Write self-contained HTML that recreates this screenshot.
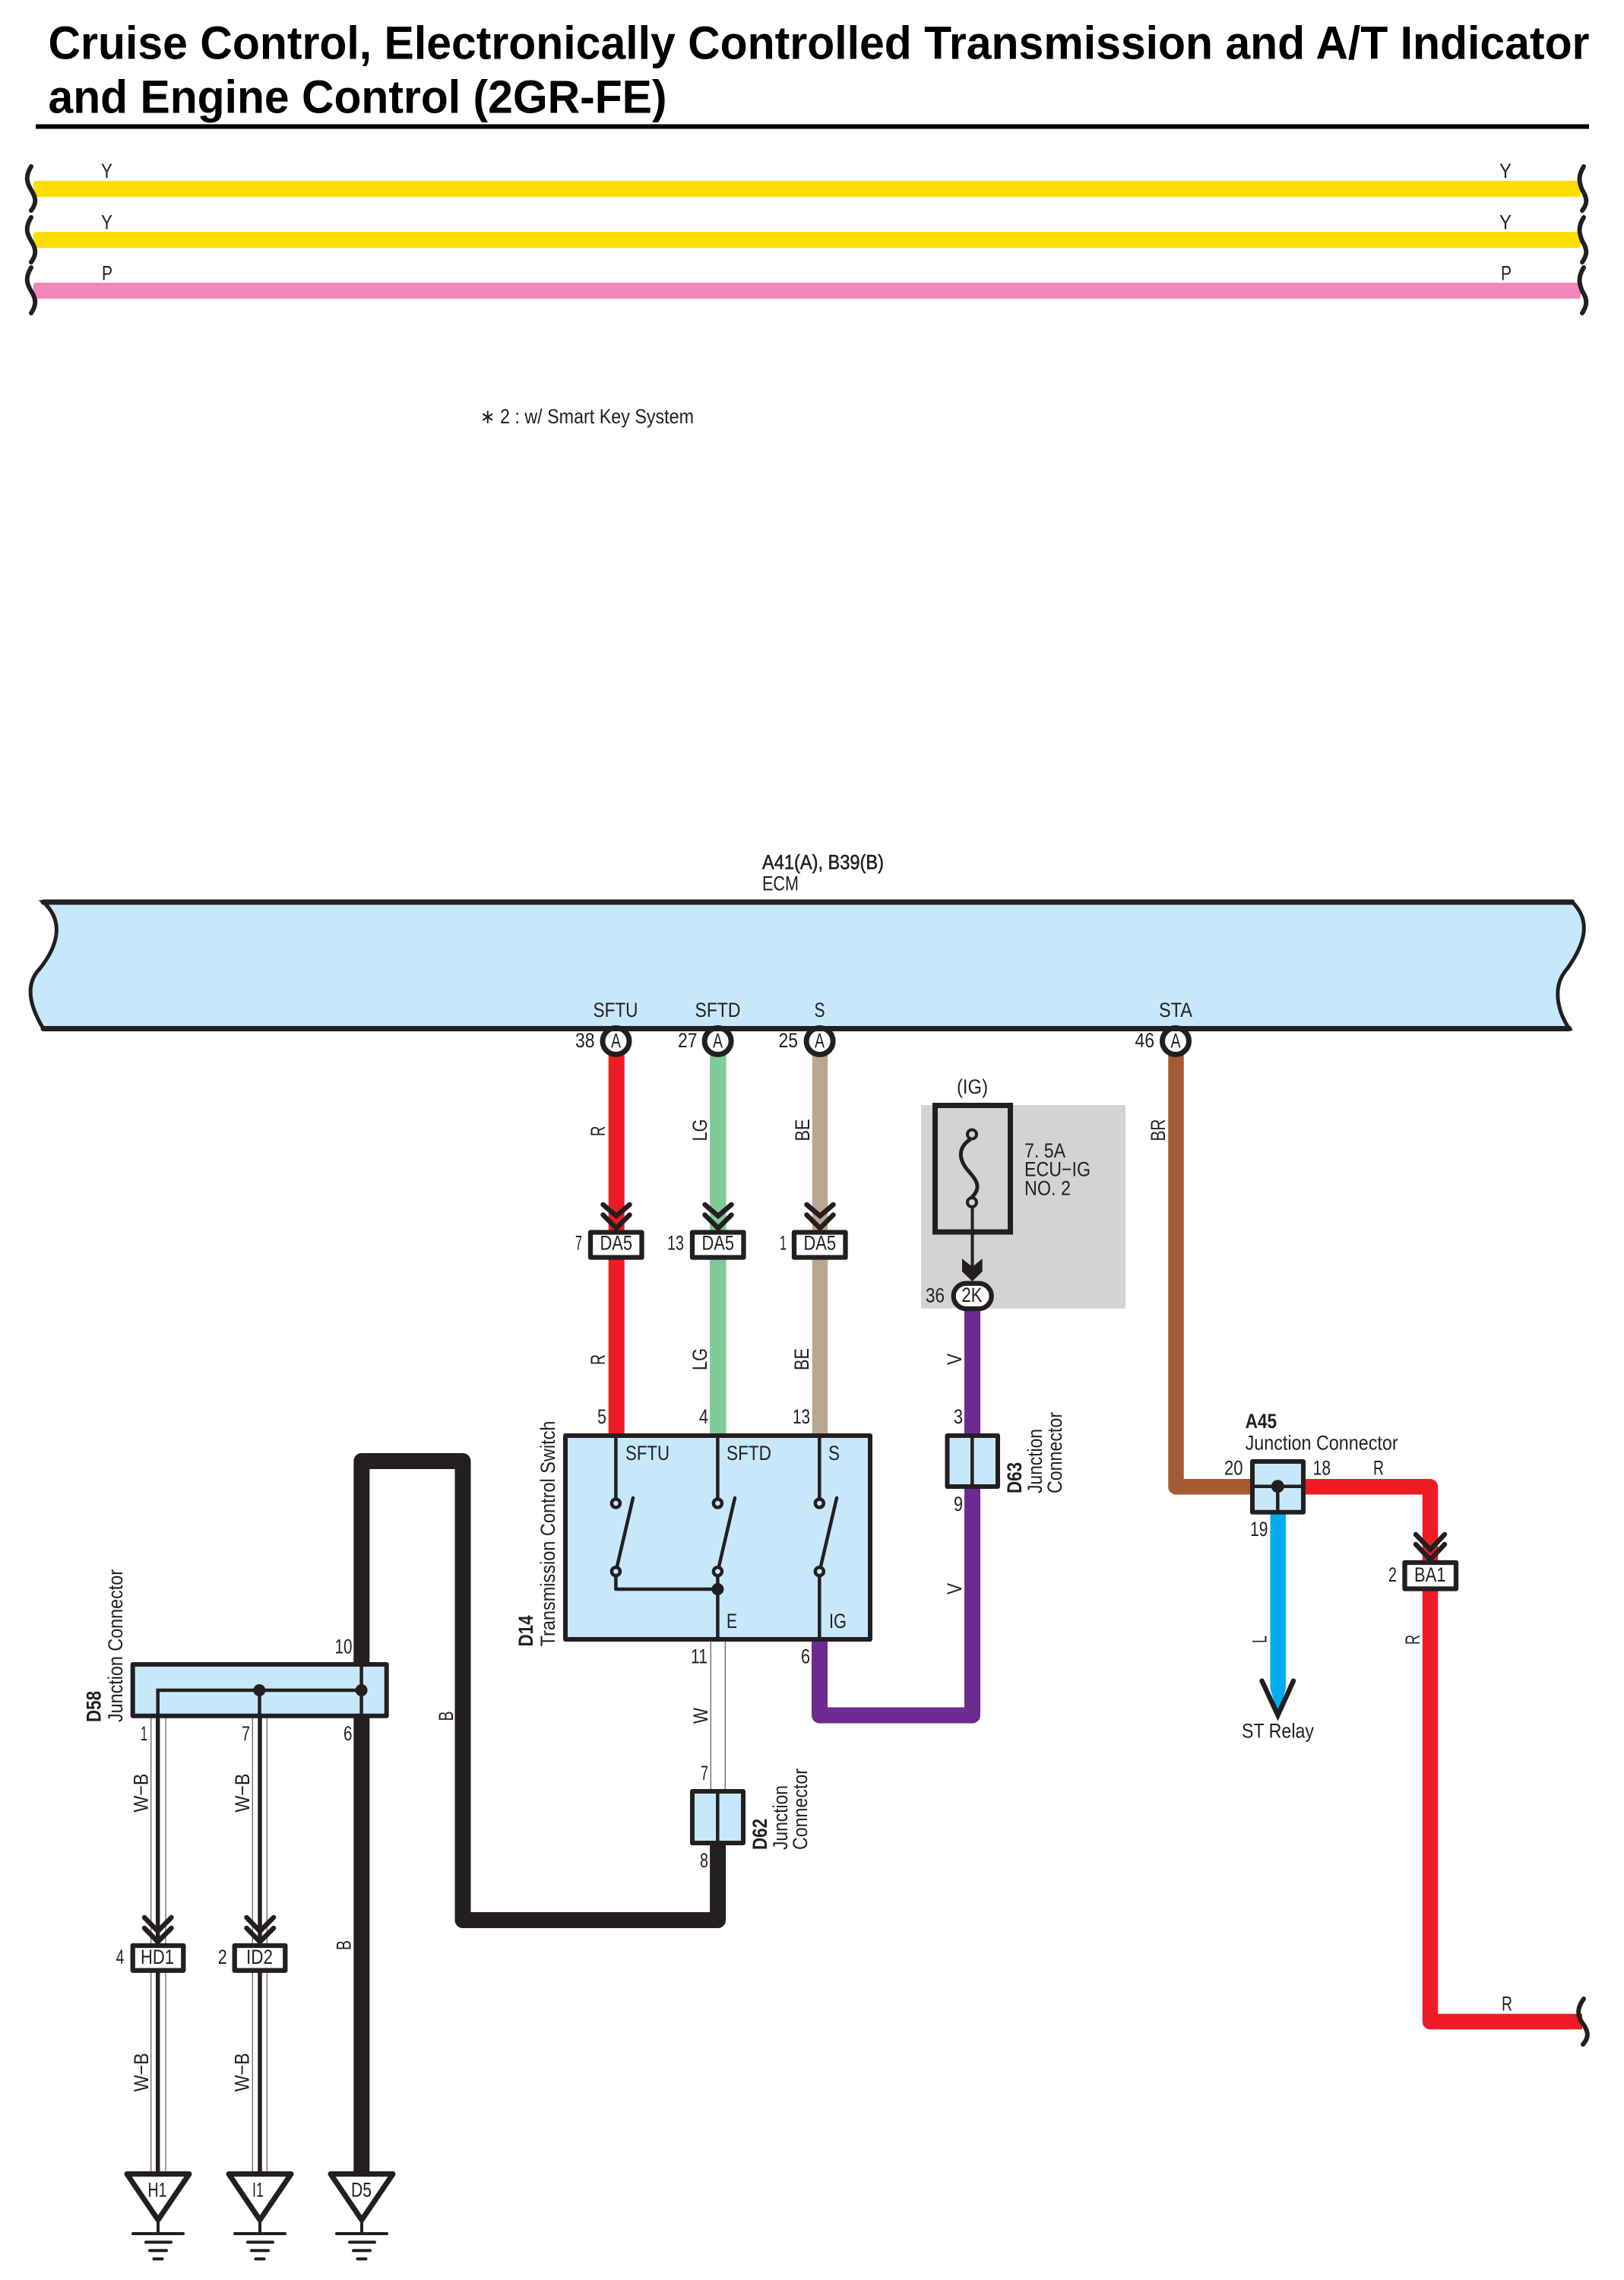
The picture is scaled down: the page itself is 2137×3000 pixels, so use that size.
<!DOCTYPE html>
<html><head><meta charset="utf-8"><style>
html,body{margin:0;padding:0;background:#fff}
svg{display:block}
text{font-family:"Liberation Sans",sans-serif;font-size:26.5px;fill:#231f20}
.b{font-weight:bold}
.h{font-weight:bold;font-size:61px;fill:#000}
.w{fill:none;stroke-linejoin:round}
.k{fill:none;stroke:#231f20;stroke-width:4.5;stroke-linejoin:round}
.g{stroke:#666;stroke-width:1.3}
.ch{fill:none;stroke:#231f20;stroke-width:6.5;stroke-linecap:round;stroke-linejoin:miter}
.sq{fill:none;stroke:#231f20;stroke-width:6;stroke-linecap:round}
.box{fill:#c7e8fa;stroke:#231f20;stroke-width:6;stroke-linejoin:round}
.con{fill:#fff;stroke:#231f20;stroke-width:6.3;stroke-linejoin:round}
.pin{fill:#fff;stroke:#231f20;stroke-width:7}
.tri{fill:#fff;stroke:#231f20;stroke-width:7;stroke-linejoin:round}
.gnd{stroke:#231f20;stroke-width:4;stroke-linecap:round}
</style></head><body>
<svg xmlns="http://www.w3.org/2000/svg" width="2137" height="3000" viewBox="0 0 2137 3000">
<rect width="2137" height="3000" fill="#fff"/>

<!-- title -->
<text class="h" x="63.5" y="77.5" textLength="2028" lengthAdjust="spacingAndGlyphs">Cruise Control, Electronically Controlled Transmission and A/T Indicator</text>
<text class="h" x="63.5" y="148.5" textLength="814" lengthAdjust="spacingAndGlyphs">and Engine Control (2GR-FE)</text>
<rect x="47" y="163.5" width="2044" height="6" fill="#000"/>

<!-- top wires -->
<rect x="44" y="238" width="2036" height="21" rx="3" fill="#ffdd00"/>
<rect x="44" y="305.2" width="2036" height="21" rx="3" fill="#ffdd00"/>
<rect x="44" y="372" width="2036" height="21" rx="3" fill="#f287b7"/>
<path class="sq" d="M41 219C33 232 35 240 41 250C48 261 48 268 41 277"/>
<path class="sq" d="M41 286C33 299 35 307 41 317C48 328 48 335 41 345"/>
<path class="sq" d="M41 352C33 365 35 373 41 383C48 394 48 401 41 412"/>
<path class="sq" d="M2084 219C2076 232 2078 240 2082 250C2089 261 2089 268 2082 277"/>
<path class="sq" d="M2084 286C2076 299 2078 307 2082 317C2089 328 2089 335 2082 345"/>
<path class="sq" d="M2084 352C2076 365 2078 373 2082 383C2089 394 2089 401 2082 412"/>
<text x="133" y="234" textLength="15" lengthAdjust="spacingAndGlyphs">Y</text>
<text x="133" y="301.5" textLength="15" lengthAdjust="spacingAndGlyphs">Y</text>
<text x="134" y="368.5" textLength="14" lengthAdjust="spacingAndGlyphs">P</text>
<text x="1973" y="234" textLength="16" lengthAdjust="spacingAndGlyphs">Y</text>
<text x="1973" y="301.5" textLength="16" lengthAdjust="spacingAndGlyphs">Y</text>
<text x="1975" y="368.5" textLength="14" lengthAdjust="spacingAndGlyphs">P</text>
<text x="632" y="557" textLength="281" lengthAdjust="spacingAndGlyphs">∗ 2 : w/ Smart Key System</text>

<!-- ECM -->
<text x="1003" y="1143.5" textLength="160" lengthAdjust="spacingAndGlyphs" stroke="#231f20" stroke-width=".6">A41(A), B39(B)</text>
<text x="1003" y="1171.5" textLength="48" lengthAdjust="spacingAndGlyphs">ECM</text>
<path d="M57 1187H2069C2098 1215 2080 1250 2062 1275C2040 1300 2052 1335 2065 1353.5H57C46 1335 28 1300 52 1275C72 1250 88 1215 57 1187Z" fill="#c7e8fa" stroke="#231f20" stroke-width="5"/>
<text x="780.5" y="1338" textLength="59" lengthAdjust="spacingAndGlyphs">SFTU</text>
<text x="914.5" y="1338" textLength="60" lengthAdjust="spacingAndGlyphs">SFTD</text>
<text x="1071.5" y="1338" textLength="14" lengthAdjust="spacingAndGlyphs">S</text>
<text x="1525" y="1338" textLength="44" lengthAdjust="spacingAndGlyphs">STA</text>

<!-- wires: ECM to D14 -->
<path d="M811.2 1385V1888" stroke="#ed1c24" stroke-width="21" fill="none"/>
<path d="M944.8 1385V1888" stroke="#7fc99a" stroke-width="21.5" fill="none"/>
<path d="M1079 1385V1888" stroke="#baa790" stroke-width="20.5" fill="none"/>

<!-- BR / A45 wires -->
<path class="w" d="M1547.5 1385V1956.3H1650" stroke="#a65a32" stroke-width="20.5"/>
<path class="w" d="M1715 1956.3H1882V2660H2082" stroke="#ed1c24" stroke-width="20.5"/>
<path d="M1681.7 1990V2222" stroke="#00aeef" stroke-width="20.5" fill="none"/>
<polygon points="1671.5,2222 1692,2222 1681.7,2256" fill="#00aeef"/>
<path class="ch" d="M1660.6 2211.7L1681.5 2256.7L1702 2211.7"/>

<!-- gray fuse block -->
<rect x="1212" y="1454" width="269" height="267.7" fill="#d1d3d4"/>
<rect x="1230.5" y="1454.5" width="99" height="166.5" fill="#d1d3d4" stroke="#231f20" stroke-width="7"/>
<path d="M1277 1499C1260 1510 1262 1525 1272 1538C1284 1552 1294 1562 1277 1577" fill="none" stroke="#231f20" stroke-width="5"/>
<circle cx="1279" cy="1492.5" r="6" fill="#d1d3d4" stroke="#231f20" stroke-width="4"/>
<circle cx="1279" cy="1582" r="6" fill="#d1d3d4" stroke="#231f20" stroke-width="4"/>
<path d="M1279.5 1588V1670" stroke="#231f20" stroke-width="4"/>
<polygon points="1266,1656 1279.5,1667 1292.7,1656 1292.7,1673 1279.5,1686 1266,1673" fill="#231f20"/>
<text x="1259" y="1439" textLength="41" lengthAdjust="spacingAndGlyphs">(IG)</text>
<text x="1348" y="1523" textLength="54" lengthAdjust="spacingAndGlyphs">7. 5A</text>
<text x="1348" y="1547.5" textLength="87" lengthAdjust="spacingAndGlyphs">ECU−IG</text>
<text x="1348" y="1572.7" textLength="61" lengthAdjust="spacingAndGlyphs">NO. 2</text>

<!-- V wire -->
<path class="w" d="M1279.5 1722V2257H1078.5V2155" stroke="#6e2b8f" stroke-width="21"/>
<rect x="1254.7" y="1688.7" width="50" height="33.3" rx="16.6" class="con"/>
<text x="1265.5" y="1713" textLength="27" lengthAdjust="spacingAndGlyphs">2K</text>
<text x="1218" y="1713.5" textLength="25" lengthAdjust="spacingAndGlyphs">36</text>

<!-- B wire -->
<path class="w" d="M944.6 2425V2526.5H609V1922.5H475.8V2860" stroke="#231f20" stroke-width="21"/>

<!-- W wire -->
<path d="M935.3 2158V2355M954.3 2158V2355" class="g" fill="none"/>

<!-- W-B wires -->
<path d="M198.7 2258V2860M218 2258V2860M332.3 2258V2860M351.3 2258V2860" class="g" fill="none"/>
<path d="M207.7 2258V2860M342 2258V2860" stroke="#231f20" stroke-width="5.5" fill="none"/>

<!-- pins on ECM -->
<circle cx="810.5" cy="1370" r="17.5" class="pin"/>
<circle cx="944.6" cy="1370" r="17.5" class="pin"/>
<circle cx="1078.6" cy="1370" r="17.5" class="pin"/>
<circle cx="1547" cy="1370" r="17.5" class="pin"/>
<path d="M57 1353.5H2065" fill="none" stroke="#231f20" stroke-width="7" stroke-linecap="round"/>
<path d="M57 1187H2069" fill="none" stroke="#231f20" stroke-width="7" stroke-linecap="round"/>
<text x="804" y="1378.5" textLength="13" lengthAdjust="spacingAndGlyphs">A</text>
<text x="938" y="1378.5" textLength="13" lengthAdjust="spacingAndGlyphs">A</text>
<text x="1072" y="1378.5" textLength="13" lengthAdjust="spacingAndGlyphs">A</text>
<text x="1540.5" y="1378.5" textLength="13" lengthAdjust="spacingAndGlyphs">A</text>
<text x="757" y="1378" textLength="25.5" lengthAdjust="spacingAndGlyphs">38</text>
<text x="892" y="1378" textLength="25.5" lengthAdjust="spacingAndGlyphs">27</text>
<text x="1024.5" y="1378" textLength="25.5" lengthAdjust="spacingAndGlyphs">25</text>
<text x="1493.5" y="1378" textLength="25.5" lengthAdjust="spacingAndGlyphs">46</text>

<!-- chevrons + DA5 -->
<path class="ch" d="M793.5 1585L811 1600L828.5 1585M793.5 1598.5L811 1616L828.5 1598.5"/>
<path class="ch" d="M927.5 1585L945 1600L962.5 1585M927.5 1598.5L945 1616L962.5 1598.5"/>
<path class="ch" d="M1061.5 1585L1079 1600L1096.5 1585M1061.5 1598.5L1079 1616L1096.5 1598.5"/>
<rect x="777" y="1621.5" width="67.5" height="33" class="con"/>
<rect x="911" y="1621.5" width="67.5" height="33" class="con"/>
<rect x="1045" y="1621.5" width="67.5" height="33" class="con"/>
<text x="789.5" y="1644.5" textLength="42.5" lengthAdjust="spacingAndGlyphs">DA5</text>
<text x="923.5" y="1644.5" textLength="42.5" lengthAdjust="spacingAndGlyphs">DA5</text>
<text x="1057.5" y="1644.5" textLength="42.5" lengthAdjust="spacingAndGlyphs">DA5</text>
<text x="757" y="1644.5" textLength="9" lengthAdjust="spacingAndGlyphs">7</text>
<text x="878" y="1644.5" textLength="22" lengthAdjust="spacingAndGlyphs">13</text>
<text x="1026" y="1644.5" textLength="9" lengthAdjust="spacingAndGlyphs">1</text>

<!-- D14 -->
<rect x="744" y="1889" width="401" height="268" class="box"/>
<path class="k" d="M810.4 1889V1972M944.4 1889V1972M1078.3 1889V1972M810.4 2074V2091H944.4M944.4 2074V2157M1078.3 2074V2157"/>
<path class="k" d="M833 1971L812 2061M967 1971L946 2061M1101 1971L1080 2061" stroke-width="5" stroke-linecap="round"/>
<g fill="#c7e8fa" stroke="#231f20" stroke-width="4.5">
<circle cx="810.4" cy="1978" r="5.5"/><circle cx="944.4" cy="1978" r="5.5"/><circle cx="1078.3" cy="1978" r="5.5"/>
<circle cx="810.4" cy="2067.7" r="5.5"/><circle cx="944.4" cy="2067.7" r="5.5"/><circle cx="1078.3" cy="2067.7" r="5.5"/>
</g>
<circle cx="944.4" cy="2091" r="8" fill="#231f20"/>
<text x="823" y="1921" textLength="58" lengthAdjust="spacingAndGlyphs">SFTU</text>
<text x="956" y="1921" textLength="59" lengthAdjust="spacingAndGlyphs">SFTD</text>
<text x="1090" y="1921" textLength="15" lengthAdjust="spacingAndGlyphs">S</text>
<text x="956" y="2142" textLength="14" lengthAdjust="spacingAndGlyphs">E</text>
<text x="1091" y="2142" textLength="23" lengthAdjust="spacingAndGlyphs">IG</text>
<text x="786" y="1873" textLength="12" lengthAdjust="spacingAndGlyphs">5</text>
<text x="920" y="1873" textLength="12" lengthAdjust="spacingAndGlyphs">4</text>
<text x="1043" y="1873" textLength="23" lengthAdjust="spacingAndGlyphs">13</text>
<text x="909" y="2188.5" textLength="22" lengthAdjust="spacingAndGlyphs">11</text>
<text x="1054" y="2188.5" textLength="12" lengthAdjust="spacingAndGlyphs">6</text>
<text transform="translate(730,2166.5) rotate(-90)" textLength="297" lengthAdjust="spacingAndGlyphs">Transmission Control Switch</text>
<text class="b" transform="translate(701,2166.5) rotate(-90)" textLength="41" lengthAdjust="spacingAndGlyphs">D14</text>

<!-- wire labels -->
<text transform="translate(796,1495) rotate(-90)" textLength="13.5" lengthAdjust="spacingAndGlyphs">R</text>
<text transform="translate(930,1501.5) rotate(-90)" textLength="29" lengthAdjust="spacingAndGlyphs">LG</text>
<text transform="translate(1065,1501.5) rotate(-90)" textLength="29" lengthAdjust="spacingAndGlyphs">BE</text>
<text transform="translate(1533,1501.5) rotate(-90)" textLength="29" lengthAdjust="spacingAndGlyphs">BR</text>
<text transform="translate(796,1796) rotate(-90)" textLength="14" lengthAdjust="spacingAndGlyphs">R</text>
<text transform="translate(930,1803) rotate(-90)" textLength="29" lengthAdjust="spacingAndGlyphs">LG</text>
<text transform="translate(1064,1803) rotate(-90)" textLength="29" lengthAdjust="spacingAndGlyphs">BE</text>
<text transform="translate(1265,1796) rotate(-90)" textLength="15" lengthAdjust="spacingAndGlyphs">V</text>
<text transform="translate(1265,2098) rotate(-90)" textLength="15" lengthAdjust="spacingAndGlyphs">V</text>
<text transform="translate(931,2268) rotate(-90)" textLength="21" lengthAdjust="spacingAndGlyphs">W</text>
<text transform="translate(596,2264.5) rotate(-90)" textLength="13" lengthAdjust="spacingAndGlyphs">B</text>
<text transform="translate(461.7,2566) rotate(-90)" textLength="13" lengthAdjust="spacingAndGlyphs">B</text>
<text transform="translate(194.6,2384.6) rotate(-90)" textLength="51" lengthAdjust="spacingAndGlyphs">W−B</text>
<text transform="translate(327.8,2384.6) rotate(-90)" textLength="51" lengthAdjust="spacingAndGlyphs">W−B</text>
<text transform="translate(195,2752.3) rotate(-90)" textLength="51" lengthAdjust="spacingAndGlyphs">W−B</text>
<text transform="translate(327.7,2752.3) rotate(-90)" textLength="51" lengthAdjust="spacingAndGlyphs">W−B</text>
<text transform="translate(1666.7,2162) rotate(-90)" textLength="10" lengthAdjust="spacingAndGlyphs">L</text>
<text transform="translate(1868,2164) rotate(-90)" textLength="13" lengthAdjust="spacingAndGlyphs">R</text>
<text x="1976" y="2645.7" textLength="14" lengthAdjust="spacingAndGlyphs">R</text>

<!-- D63 -->
<rect x="1246.5" y="1889" width="66.5" height="67" class="box"/>
<path d="M1279.3 1889V1956" stroke="#231f20" stroke-width="4.5"/>
<text x="1255" y="1873" textLength="12" lengthAdjust="spacingAndGlyphs">3</text>
<text x="1255" y="1988" textLength="12" lengthAdjust="spacingAndGlyphs">9</text>
<text class="b" transform="translate(1344,1965) rotate(-90)" textLength="41" lengthAdjust="spacingAndGlyphs">D63</text>
<text transform="translate(1371,1965) rotate(-90)" textLength="85" lengthAdjust="spacingAndGlyphs">Junction</text>
<text transform="translate(1397,1965) rotate(-90)" textLength="107" lengthAdjust="spacingAndGlyphs">Connector</text>

<!-- D62 -->
<rect x="911" y="2357" width="67" height="68" class="box"/>
<path d="M944.3 2357V2425" stroke="#231f20" stroke-width="4.5"/>
<text x="922" y="2342" textLength="10" lengthAdjust="spacingAndGlyphs">7</text>
<text x="921" y="2457" textLength="11" lengthAdjust="spacingAndGlyphs">8</text>
<text class="b" transform="translate(1009,2434) rotate(-90)" textLength="41" lengthAdjust="spacingAndGlyphs">D62</text>
<text transform="translate(1036,2434) rotate(-90)" textLength="85" lengthAdjust="spacingAndGlyphs">Junction</text>
<text transform="translate(1062,2434) rotate(-90)" textLength="107" lengthAdjust="spacingAndGlyphs">Connector</text>

<!-- A45 -->
<rect x="1648" y="1923" width="67" height="66.7" class="box"/>
<path class="k" d="M1648 1955.7H1715M1681.3 1955.7V1990"/>
<circle cx="1681.3" cy="1955.7" r="8.5" fill="#231f20"/>
<text class="b" x="1638.6" y="1879" textLength="41.5" lengthAdjust="spacingAndGlyphs">A45</text>
<text x="1638.6" y="1907.7" textLength="201" lengthAdjust="spacingAndGlyphs">Junction Connector</text>
<text x="1611" y="1940.7" textLength="24.5" lengthAdjust="spacingAndGlyphs">20</text>
<text x="1727.6" y="1940.7" textLength="23.5" lengthAdjust="spacingAndGlyphs">18</text>
<text x="1807" y="1940.7" textLength="14" lengthAdjust="spacingAndGlyphs">R</text>
<text x="1645" y="2021" textLength="23.5" lengthAdjust="spacingAndGlyphs">19</text>
<text x="1634" y="2286.7" textLength="95" lengthAdjust="spacingAndGlyphs">ST Relay</text>

<!-- BA1 -->
<path class="ch" d="M1863 2019L1882 2039L1901 2019M1863 2032L1882 2052L1901 2032"/>
<rect x="1848.5" y="2056" width="67.5" height="34.5" class="con"/>
<text x="1861" y="2081" textLength="41.5" lengthAdjust="spacingAndGlyphs">BA1</text>
<text x="1827" y="2081" textLength="11" lengthAdjust="spacingAndGlyphs">2</text>
<path class="sq" d="M2084 2630C2076 2641 2075 2650 2081 2660C2090 2672 2092 2680 2083 2690"/>

<!-- D58 -->
<rect x="174.7" y="2190" width="334" height="67.7" class="box"/>
<path d="M207.7 2258V2224H475.6M341.5 2224V2258M475.6 2190V2258" fill="none" stroke="#231f20" stroke-width="4.5"/>
<circle cx="341.3" cy="2224" r="8" fill="#231f20"/>
<circle cx="475.6" cy="2224" r="8" fill="#231f20"/>
<text class="b" transform="translate(132.6,2266) rotate(-90)" textLength="41" lengthAdjust="spacingAndGlyphs">D58</text>
<text transform="translate(161,2266) rotate(-90)" textLength="201" lengthAdjust="spacingAndGlyphs">Junction Connector</text>
<text x="440.5" y="2175.7" textLength="23" lengthAdjust="spacingAndGlyphs">10</text>
<text x="185" y="2290" textLength="9" lengthAdjust="spacingAndGlyphs">1</text>
<text x="318" y="2290" textLength="11" lengthAdjust="spacingAndGlyphs">7</text>
<text x="452" y="2290" textLength="11.5" lengthAdjust="spacingAndGlyphs">6</text>

<!-- HD1 ID2 -->
<path class="ch" d="M190 2523L207.7 2541L225.5 2523M190 2537L207.7 2555L225.5 2537"/>
<path class="ch" d="M324.5 2523L342 2541L360 2523M324.5 2537L342 2555L360 2537"/>
<rect x="174.7" y="2560" width="66.6" height="32.7" class="con"/>
<rect x="308.7" y="2560" width="66.6" height="32.7" class="con"/>
<text x="185" y="2584" textLength="44" lengthAdjust="spacingAndGlyphs">HD1</text>
<text x="324" y="2584" textLength="35" lengthAdjust="spacingAndGlyphs">ID2</text>
<text x="152.7" y="2584" textLength="10.5" lengthAdjust="spacingAndGlyphs">4</text>
<text x="286.7" y="2584" textLength="12" lengthAdjust="spacingAndGlyphs">2</text>

<!-- grounds -->
<polygon class="tri" points="167,2860.5 249,2860.5 208,2921"/>
<polygon class="tri" points="301,2860.5 383,2860.5 342,2921"/>
<polygon class="tri" points="435,2860.5 517,2860.5 476,2921"/>
<text x="194.5" y="2890.7" textLength="25" lengthAdjust="spacingAndGlyphs">H1</text>
<text x="332" y="2890.7" textLength="15" lengthAdjust="spacingAndGlyphs">I1</text>
<text x="462" y="2890.7" textLength="27" lengthAdjust="spacingAndGlyphs">D5</text>
<g class="gnd">
<path d="M208 2922V2939M175 2939H241M192 2950.3H225M197 2961.3H219M202.5 2972.3H213.5"/>
<path d="M342 2922V2939M309 2939H375M326 2950.3H359M331 2961.3H353M336.5 2972.3H347.5"/>
<path d="M476 2922V2939M443 2939H509M460 2950.3H493M465 2961.3H487M470.5 2972.3H481.5"/>
</g>
</svg>
</body></html>
